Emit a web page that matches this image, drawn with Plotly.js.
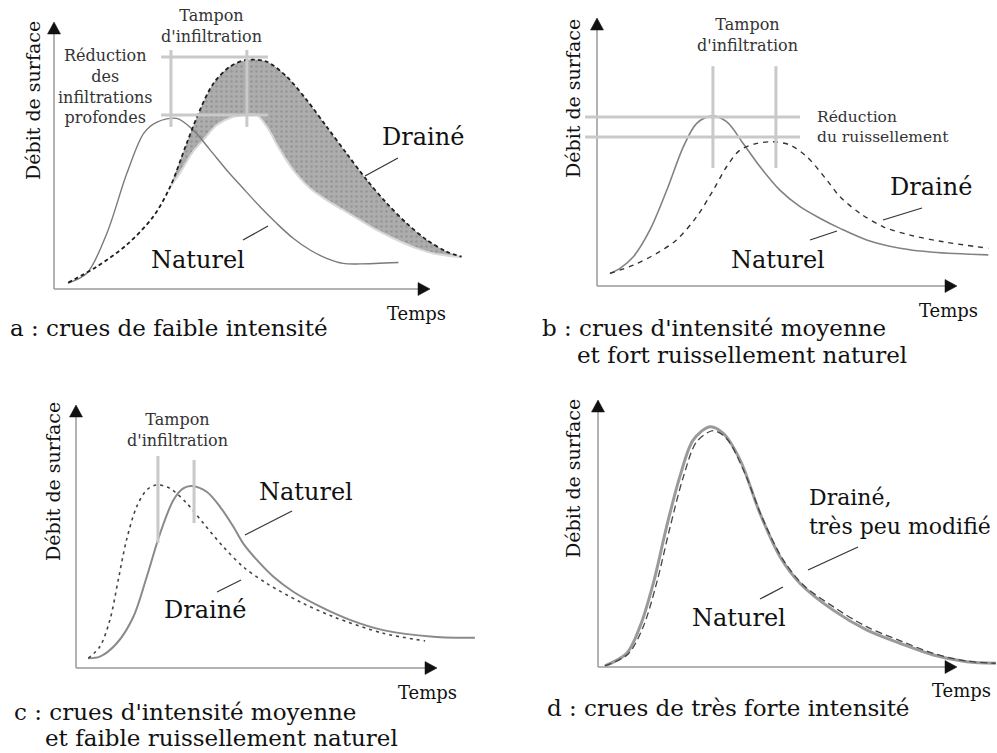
<!DOCTYPE html>
<html>
<head>
<meta charset="utf-8">
<script src="https://cdn.plot.ly/plotly-3.0.1.min.js"></script>
<style>html,body{margin:0;padding:0;background:#fff}#chart{width:997px;height:753px}</style>
</head>
<body>
<div id="chart"></div>
<script>
// ---------- DATA (time units / flow units) ----------
// Panel a : crues de faible intensité
const aTimeNat = [3.7, 8.8, 14.1, 19.4, 23.9, 27.4, 32.6, 37.0, 41.5, 45.9, 50.3, 54.8, 59.2, 63.6, 68.1, 72.5, 76.9, 81.4, 91.6];
const aFlowNat = [2.2, 6.0, 21.0, 43.4, 58.4, 62.5, 63.9, 59.6, 52.1, 44.6, 37.7, 30.8, 24.6, 19.0, 14.6, 11.5, 9.6, 9.4, 9.9];
const aTimeDrn = [3.8, 11.4, 19.3, 26.4, 30.9, 35.3, 38.8, 42.4, 46.8, 51.2, 56.6, 61.9, 67.2, 72.5, 77.8, 83.2, 88.5, 93.8, 99.1, 104.4, 108.4];
const aFlowDrn = [2.4, 8.4, 16.5, 27.1, 38.3, 54.6, 67.0, 77.0, 83.3, 85.8, 85.1, 79.5, 70.8, 60.8, 50.8, 40.8, 32.1, 24.6, 18.4, 14.0, 12.1];
const aTimeLow = [30.9, 33.5, 37.0, 39.7, 43.3, 47.7, 51.2, 53.9, 56.6, 60.1, 63.6, 68.1, 72.5, 76.9, 81.4, 85.8, 90.2, 96.5, 101.0, 108.4];
const aFlowLow = [38.3, 43.5, 51.5, 55.8, 61.4, 64.5, 65.2, 65.2, 60.8, 52.1, 44.6, 37.7, 33.3, 29.6, 25.8, 22.1, 19.0, 15.2, 13.3, 11.9];
const aPeakTimes = [31.1, 51.3];
const aPeakLevels = [65.2, 86.9];

// Panel b : crues d'intensité moyenne et fort ruissellement naturel
const bTimeNat = [3.6, 6.4, 10.1, 14.7, 19.4, 24.0, 27.7, 31.9, 36.0, 40.6, 45.3, 50.8, 56.4, 61.9, 67.5, 74.9, 84.2, 93.4, 108.7];
const bFlowNat = [4.7, 6.6, 10.9, 20.9, 35.8, 52.0, 60.7, 63.4, 61.3, 53.2, 44.5, 35.8, 29.6, 25.3, 21.5, 17.2, 14.1, 12.6, 11.6];
const bTimeDrn = [3.6, 10.1, 16.6, 22.1, 27.7, 32.3, 36.0, 39.7, 44.4, 49.0, 53.6, 58.3, 63.8, 67.5, 73.1, 79.5, 87.0, 96.2, 108.7];
const bFlowDrn = [4.7, 7.8, 12.2, 17.2, 25.9, 35.8, 44.5, 50.7, 53.2, 53.8, 52.6, 48.2, 39.6, 33.3, 27.1, 22.1, 19.0, 16.5, 14.1];
const bPeakTimes = [32.2, 49.7];
const bPeakLevels = [55.6, 63.1];

// Panel c : crues d'intensité moyenne et faible ruissellement naturel
const cTimeNat = [3.4, 6.6, 11.3, 15.9, 19.6, 23.3, 27.0, 29.7, 32.0, 36.2, 39.9, 43.6, 46.3, 50.1, 54.7, 60.2, 66.7, 75.9, 85.1, 99.0, 110.5];
const cFlowNat = [3.7, 4.3, 9.4, 19.5, 34.7, 51.2, 63.9, 68.3, 69.2, 67.0, 61.3, 53.7, 47.4, 41.1, 34.7, 29.0, 24.0, 18.3, 14.4, 11.9, 11.5];
const cTimeDrn = [3.4, 6.6, 9.4, 11.7, 14.0, 16.8, 19.6, 22.4, 26.0, 30.7, 35.3, 40.8, 46.3, 52.8, 62.0, 71.3, 85.1, 96.7];
const cFlowDrn = [3.7, 8.1, 18.3, 33.5, 48.7, 61.3, 67.7, 69.6, 68.3, 62.6, 55.0, 46.1, 38.5, 32.2, 25.2, 19.5, 13.2, 10.3];
const cPeakTimes = [22.7, 32.7];

// Panel d : crues de très forte intensité
const dTimeNat = [1.9, 8.0, 11.7, 15.4, 19.1, 22.8, 26.5, 31.2, 34.9, 39.6, 45.1, 50.7, 56.3, 65.5, 74.8, 84.1, 93.4, 102.7, 111.1];
const dFlowNat = [0.4, 5.1, 15.1, 31.3, 52.5, 71.3, 85.0, 90.0, 87.5, 77.5, 57.6, 41.3, 31.3, 21.3, 13.9, 8.9, 4.5, 2.0, 1.4];
const dTimeDrn = [1.9, 8.4, 12.6, 16.3, 20.1, 23.8, 27.5, 32.1, 35.8, 40.5, 46.0, 51.6, 57.2, 65.5, 74.8, 84.1, 93.4, 102.7, 111.1];
const dFlowDrn = [0.4, 4.9, 15.1, 31.3, 52.5, 71.3, 84.4, 88.5, 85.6, 73.8, 55.1, 40.1, 30.7, 22.6, 15.1, 9.9, 5.1, 2.2, 1.4];

// Texts
const yTitle = 'Débit de surface';
const xTitle = 'Temps';
const lblNat = 'Naturel';
const lblDrn = 'Drainé';

// ---------- LAYOUT HELPERS ----------
const W = 997, H = 753;
const FONT = 'DejaVu Serif';
function px(x) { return x / W; }
function py(y) { return 1 - y / H; }

// panel frames: origin pixel, pixels per unit
const panels = [
  { id: '',  ox: 54,  oy: 289, sx: 3.76, sy: 2.67, xmin: -4, xmax: 112 },
  { id: '2', ox: 597, oy: 286, sx: 3.60, sy: 2.68, xmin: -4, xmax: 110.5 },
  { id: '3', ox: 76,  oy: 668, sx: 3.61, sy: 2.63, xmin: -4, xmax: 112 },
  { id: '4', ox: 598, oy: 667, sx: 3.59, sy: 2.67, xmin: -4, xmax: 110.8 }
];
const ymin = -3, ymax = 103;

const layout = {
  width: W, height: H,
  margin: { l: 0, r: 0, t: 0, b: 0 },
  paper_bgcolor: '#ffffff',
  plot_bgcolor: 'rgba(0,0,0,0)',
  showlegend: false,
  hovermode: false,
  font: { family: FONT, color: '#111' },
  shapes: [],
  annotations: []
};

panels.forEach(p => {
  layout['xaxis' + p.id] = {
    domain: [(p.ox + p.xmin * p.sx) / W, (p.ox + p.xmax * p.sx) / W],
    range: [p.xmin, p.xmax],
    showgrid: false, zeroline: false, showticklabels: false, ticks: '', showline: false,
    anchor: 'y' + p.id, fixedrange: true
  };
  layout['yaxis' + p.id] = {
    domain: [1 - (p.oy - ymin * p.sy) / H, 1 - (p.oy - ymax * p.sy) / H],
    range: [ymin, ymax],
    showgrid: false, zeroline: false, showticklabels: false, ticks: '', showline: false,
    anchor: 'x' + p.id, fixedrange: true
  };
  const xr = 'x' + p.id, yr = 'y' + p.id;
  // axis lines
  layout.shapes.push({ type: 'line', xref: xr, yref: yr, x0: 0, y0: 0, x1: 97, y1: 0, line: { color: '#9a9a9a', width: 1.5 } });
  layout.shapes.push({ type: 'line', xref: xr, yref: yr, x0: 0, y0: 0, x1: 0, y1: 96, line: { color: '#9a9a9a', width: 1.5 } });
  // filled arrow heads (pixel-sized paths anchored at the axis tips)
  layout.shapes.push({ type: 'path', xref: xr, yref: yr, xsizemode: 'pixel', ysizemode: 'pixel',
    xanchor: 100, yanchor: 0, path: 'M0,0 L-12,6.5 L-12,-6.5 Z',
    fillcolor: '#111', line: { color: '#111', width: 0.5 } });
  layout.shapes.push({ type: 'path', xref: xr, yref: yr, xsizemode: 'pixel', ysizemode: 'pixel',
    xanchor: 0, yanchor: 100, path: 'M0,0 L-6.5,-12 L6.5,-12 Z',
    fillcolor: '#111', line: { color: '#111', width: 0.5 } });
});

// guide lines (peaks)
const GUIDE = { color: '#c9c9c9', width: 3 };
function vline(id, t, q0, q1) { layout.shapes.push({ type: 'line', xref: 'x' + id, yref: 'y' + id, x0: t, x1: t, y0: q0, y1: q1, line: GUIDE }); }
function hline(id, q, t0, t1) { layout.shapes.push({ type: 'line', xref: 'x' + id, yref: 'y' + id, x0: t0, x1: t1, y0: q, y1: q, line: GUIDE }); }
aPeakTimes.forEach(t => vline('', t, 60.7, 89.5));
aPeakLevels.forEach(q => hline('', q, 28.5, 56.9));
bPeakTimes.forEach(t => vline('2', t, 44.0, 82.0));
bPeakLevels.forEach(q => hline('2', q, -3.3, 56.4));
vline('3', cPeakTimes[0], 47.5, 80.6);
vline('3', cPeakTimes[1], 55.1, 79.1);

// leader lines (pixel positions)
function leader(x0, y0, x1, y1) {
  layout.shapes.push({ type: 'line', xref: 'paper', yref: 'paper', x0: px(x0), y0: py(y0), x1: px(x1), y1: py(y1), line: { color: '#333', width: 1.2 } });
}
leader(365, 176, 398, 158); leader(243, 240, 268, 226);
leader(883, 220, 922, 208); leader(810, 240, 837, 231);
leader(245, 535, 292, 511); leader(217, 592, 241, 580);
leader(808, 570, 858, 547); leader(760, 599, 783, 587);

// text annotations
function txt(text, x, y, size, opts) {
  const o = Object.assign({ xanchor: 'center', yanchor: 'middle', color: '#111', align: 'center', angle: 0 }, opts || {});
  layout.annotations.push({ xref: 'paper', yref: 'paper', x: px(x), y: py(y), text: text, showarrow: false,
    xanchor: o.xanchor, yanchor: o.yanchor, align: o.align, textangle: o.angle,
    font: { family: FONT, size: size, color: o.color } });
}
// panel a
txt('Tampon<br>d\'infiltration', 211, 26, 16, { color: '#333' });
txt('Réduction<br>des<br>infiltrations<br>profondes', 105, 86, 16, { color: '#333' });
txt(lblDrn, 423, 137, 24);
txt(lblNat, 198, 260, 24);
txt(xTitle, 416, 313, 18);
txt('a : crues de faible intensité', 8, 328, 23, { xanchor: 'left' });
txt(yTitle, 33, 101, 19, { angle: -90 });
// panel b
txt('Tampon<br>d\'infiltration', 747, 35.5, 16, { color: '#333' });
txt('Réduction<br>du ruissellement', 815, 127, 15.5, { color: '#333', xanchor: 'left', align: 'left' });
txt(lblDrn, 931, 187, 24);
txt(lblNat, 778, 260, 24);
txt(xTitle, 948, 310, 18);
txt('b : crues d\'intensité moyenne', 540, 328, 23, { xanchor: 'left' });
txt('et fort ruissellement naturel', 575, 355, 23, { xanchor: 'left' });
txt(yTitle, 573, 99, 19, { angle: -90 });
// panel c
txt('Tampon<br>d\'infiltration', 177, 430, 16, { color: '#333' });
txt(lblNat, 306, 492, 24);
txt(lblDrn, 205, 610, 24);
txt(xTitle, 427, 692, 18);
txt('c : crues d\'intensité moyenne', 12, 712, 23, { xanchor: 'left' });
txt('et faible ruissellement naturel', 43, 738, 23, { xanchor: 'left' });
txt(yTitle, 53, 482, 19, { angle: -90 });
// panel d
txt(lblDrn + ',<br>très peu modifié', 807, 512, 22, { xanchor: 'left', align: 'left' });
txt(lblNat, 739, 618, 24);
txt(xTitle, 961, 690, 18);
txt('d : crues de très forte intensité', 545, 708, 23, { xanchor: 'left' });
txt(yTitle, 573, 479, 19, { angle: -90 });

// ---------- TRACES ----------
function line(xs, ys, id, color, width, dash) {
  return { type: 'scatter', mode: 'lines', x: xs, y: ys, xaxis: 'x' + id, yaxis: 'y' + id,
    line: { color: color, width: width, dash: dash || 'solid', shape: 'spline', smoothing: 0.9 },
    cliponaxis: false, hoverinfo: 'skip' };
}
const bandStart = aTimeDrn.indexOf(aTimeLow[0]);
const traces = [
  // panel a shaded band
  line(aTimeLow, aFlowLow, '', '#d8d8d8', 2),
  Object.assign(line(aTimeDrn.slice(bandStart), aFlowDrn.slice(bandStart), '', 'rgba(0,0,0,0)', 0), {
    fill: 'tonexty', fillcolor: '#aaaaaa',
    fillpattern: { shape: '.', bgcolor: '#adadad', fgcolor: '#959595', size: 5, solidity: 0.2 }
  }),
  line(aTimeNat, aFlowNat, '', '#7a7a7a', 1.4),
  line(aTimeDrn, aFlowDrn, '', '#1e1e1e', 1.8, '4px,3px'),
  // panel b
  line(bTimeNat, bFlowNat, '2', '#828282', 1.6),
  line(bTimeDrn, bFlowDrn, '2', '#333333', 1.4, '5px,5px'),
  // panel c
  line(cTimeNat, cFlowNat, '3', '#8a8a8a', 2),
  line(cTimeDrn, cFlowDrn, '3', '#444444', 1.6, '3px,4px'),
  // panel d
  line(dTimeNat, dFlowNat, '4', '#9a9a9a', 3),
  line(dTimeDrn, dFlowDrn, '4', '#444444', 1.3, '7px,4px')
];

Plotly.newPlot('chart', traces, layout, { staticPlot: true, displayModeBar: false });
</script>
</body>
</html>
